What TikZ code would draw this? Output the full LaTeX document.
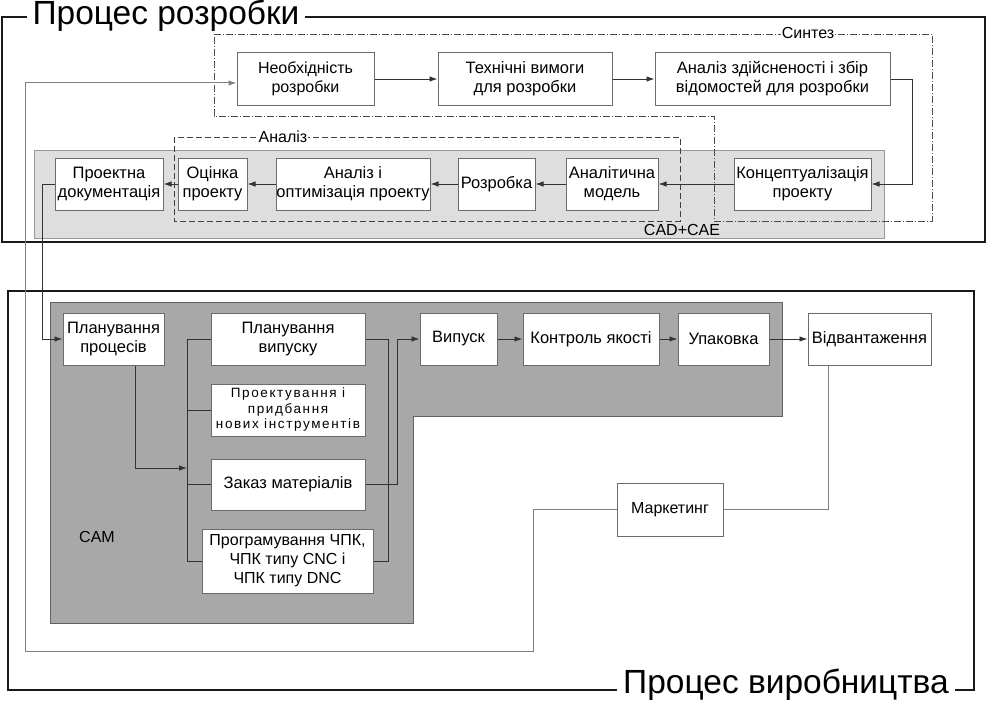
\documentclass[tikz,border=0pt]{standalone}
\usepackage{fontspec}
\setmainfont{Liberation Sans}
\usetikzlibrary{arrows.meta}
\definecolor{boxline}{gray}{0.42}
\definecolor{wireclr}{gray}{0.2}
\definecolor{loopclr}{gray}{0.5}
\definecolor{cadfill}{gray}{0.87}
\definecolor{cadline}{gray}{0.6}
\definecolor{camfill}{gray}{0.66}
\definecolor{camline}{gray}{0.38}
\tikzset{>={Latex[length=8pt,width=5.5pt]},
  blk/.style={draw=boxline, fill=white, line width=1pt, align=center, inner sep=0pt},
  wire/.style={draw=wireclr, line width=0.9pt},
  loopwire/.style={draw=loopclr, line width=1pt},
  frame/.style={draw=black!90, line width=2.6pt},
  title/.style={fill=white, inner xsep=6pt, inner ysep=0pt, font=\fontsize{33.5}{38}\selectfont},
  lbl/.style={inner sep=1pt, font=\fontsize{16}{18}\selectfont},
  synth/.style={draw=black!70, line width=0.7pt, dash pattern=on 7pt off 2pt on 1pt off 2pt},
  anlz/.style={draw=black!75, line width=0.8pt, dash pattern=on 6pt off 3pt}}

\begin{document}
\begin{tikzpicture}[x=1pt,y=-1pt]
\useasboundingbox (0,0) rectangle (988,709);
% frames
\draw[frame] (2,17) rectangle (985,242);
\draw[frame] (8,291) rectangle (974,690);
\node[title, anchor=base] (tdev) at (166,25) {Процес розробки};
\node[title, anchor=base] (tman) at (786,693) {Процес виробництва};
% panels
\draw[fill=cadfill, draw=cadline, line width=1pt] (34,150) rectangle (884,238);
\node[lbl] (cad) at (682,230) {CAD+CAE};
\draw[fill=camfill, draw=camline, line width=1pt] (50,302) -- (782,302) -- (782,416) -- (413,416) -- (413,623) -- (50,623) -- cycle;
\node[lbl] (cam) at (97,537) {CAM};
\draw[synth] (214,34) -- (932,34) -- (932,221) -- (714,221) -- (714,116) -- (214,116) -- cycle;
\node[lbl, fill=white] (syn) at (808,33) {Синтез};
\draw[anlz] (174,137) rectangle (680,221);
\node[lbl, fill=white] (anl) at (283,137) {Аналіз};
% boxes
\foreach \n/\x/\y/\bw/\bh/\fs/\txt in {
  nd/305.5/79/137/52/16/{Необхідність\\розробки},
  tv/525/79/174/52/16.5/{Технічні вимоги\\для розробки},
  az/772.5/79/235/52/16.5/{Аналіз здійсненості і збір\\відомостей для розробки},
  pd/109/184/108/52/16.5/{Проектна\\документація},
  op/212.5/184/69/52/16.5/{Оцінка\\проекту},
  ao/353/184/154/52/16.5/{Аналіз і\\оптимізація проекту},
  rz/496.5/184/77/52/16.5/{Розробка},
  am/612/184/92/52/16.5/{Аналітична\\модель},
  kp/802.5/184/137/52/16.5/{Концептуалізація\\проекту},
  pp/113.5/339/101/52/16.5/{Планування\\процесів},
  pv/288/339/154/52/16.5/{Планування\\випуску},
  zm/288/484.5/154/51/16.5/{Заказ матеріалів},
  pr/287.5/561/171/64/16/{Програмування ЧПК,\\ЧПК типу CNC і\\ЧПК типу DNC},
  vy/458.5/339/77/52/16.5/{Випуск},
  kj/591/339/136/52/16.5/{Контроль якості},
  up/723.5/339/91/52/16.5/{Упаковка},
  vd/869.5/339/123/52/16.5/{Відвантаження},
  mk/670/509.5/106/53/16/{Маркетинг}}
  \node[blk, minimum width=\bw pt, minimum height=\bh pt, font=\fontsize{\fs}{19}\selectfont] (\n) at (\x,\y) {\txt};
\node[blk, minimum width=154pt, minimum height=52pt, font=\fontsize{13.5}{15.5}\selectfont\addfontfeature{LetterSpace=12}] (pi) at (288,410) {Проектування і\\придбання\\нових інструментів};
% design flow
\draw[wire,->] (nd) -- (tv);
\draw[wire,->] (tv) -- (az);
\draw[wire,->] (az.east) -- ++(22,0) |- (kp.east);
\draw[wire,->] (kp) -- (am);
\draw[wire,->] (am) -- (rz);
\draw[wire,->] (rz) -- (ao);
\draw[wire,->] (ao) -- (op);
\draw[wire,->] (op) -- (pd);
\draw[wire,->] (pd.west) -- ++(-12,0) |- (pp.west);
% CAM
\coordinate (busL) at (187,0);
\coordinate (busR) at (388,0);
\coordinate (busV) at (397,0);
\draw[wire] (busL |- pv.west) -- (busL |- pr.west);
\foreach \n in {pv,pi,zm,pr}
  \draw[wire] (\n.west) -- (busL |- \n.west);
\draw[wire,->] ([xshift=21.5pt]pp.south) |- (busL |- 0,468);
\draw[wire] (pv.east) -| (busR |- pr.east) -- (pr.east);
\draw[wire,->] (zm.east) -| (busV |- vy.west) -- (vy.west);
\draw[wire,->] (vy) -- (kj);
\draw[wire,->] (kj) -- (up);
\draw[wire,->] (up) -- (vd);
% feedback
\coordinate (lp1) at (533,651);
\coordinate (lp2) at (25,651);
\draw[loopwire] (vd.south -| 828,0) |- (mk.east);
\draw[loopwire,->] (mk.west) -| (lp1) -- (lp2) |- ([yshift=-4pt]nd.west);
\end{tikzpicture}
\end{document}
